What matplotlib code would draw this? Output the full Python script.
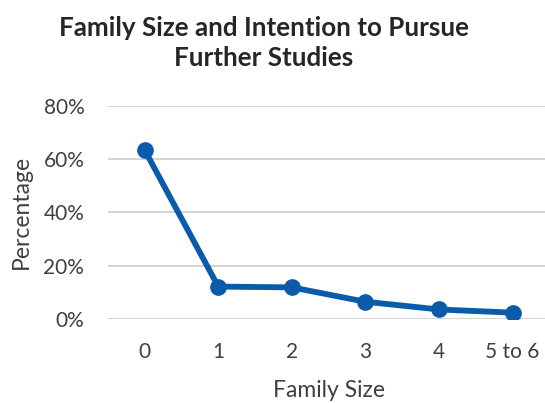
import matplotlib.pyplot as plt
import matplotlib

matplotlib.rcParams.update(
    {
        'font.family': ['Lato', 'DejaVu Sans'],
        'font.size': 12
    }
)

family_size = ['0', '1', '2', '3', '4', '5 to 6']
pct_pursue = [63.4, 12.1, 11.8, 6.4, 3.5, 2.3]

fig = plt.figure(figsize=(5.45, 4.03), dpi=100)
ax = fig.add_axes([0.198, 0.209, 0.810, 0.528])

ax.plot(range(len(family_size)), pct_pursue, color='#0A5BAA', linewidth=4.2,
        marker='o', markersize=11, zorder=3, solid_capstyle='round')

ax.set_xlim(-0.5, len(family_size) - 0.5)
ax.set_ylim(0, 80)
ax.set_yticks([0, 20, 40, 60, 80])
ax.set_yticklabels([f'{v}%' for v in [0, 20, 40, 60, 80]])
ax.set_xticks(range(len(family_size)))
ax.set_xticklabels(family_size)

ax.grid(axis='y', color='#D0D0D0', linewidth=1.3)
ax.set_axisbelow(True)
for s in ax.spines.values():
    s.set_visible(False)
ax.tick_params(length=0, colors='#404040', labelsize=15)
ax.tick_params(axis='y', pad=17)
ax.tick_params(axis='x', pad=17)

ax.set_xlabel('Family Size', fontsize=16.5, color='#404040', labelpad=13)
ax.set_ylabel('Percentage', fontsize=16.5, color='#404040', labelpad=8)
fig.text(0.484, 0.894, 'Family Size and Intention to Pursue\nFurther Studies',
         ha='center', va='center', fontsize=18.7, fontweight='bold',
         color='#262626', linespacing=1.3)

fig.savefig('out.png')
